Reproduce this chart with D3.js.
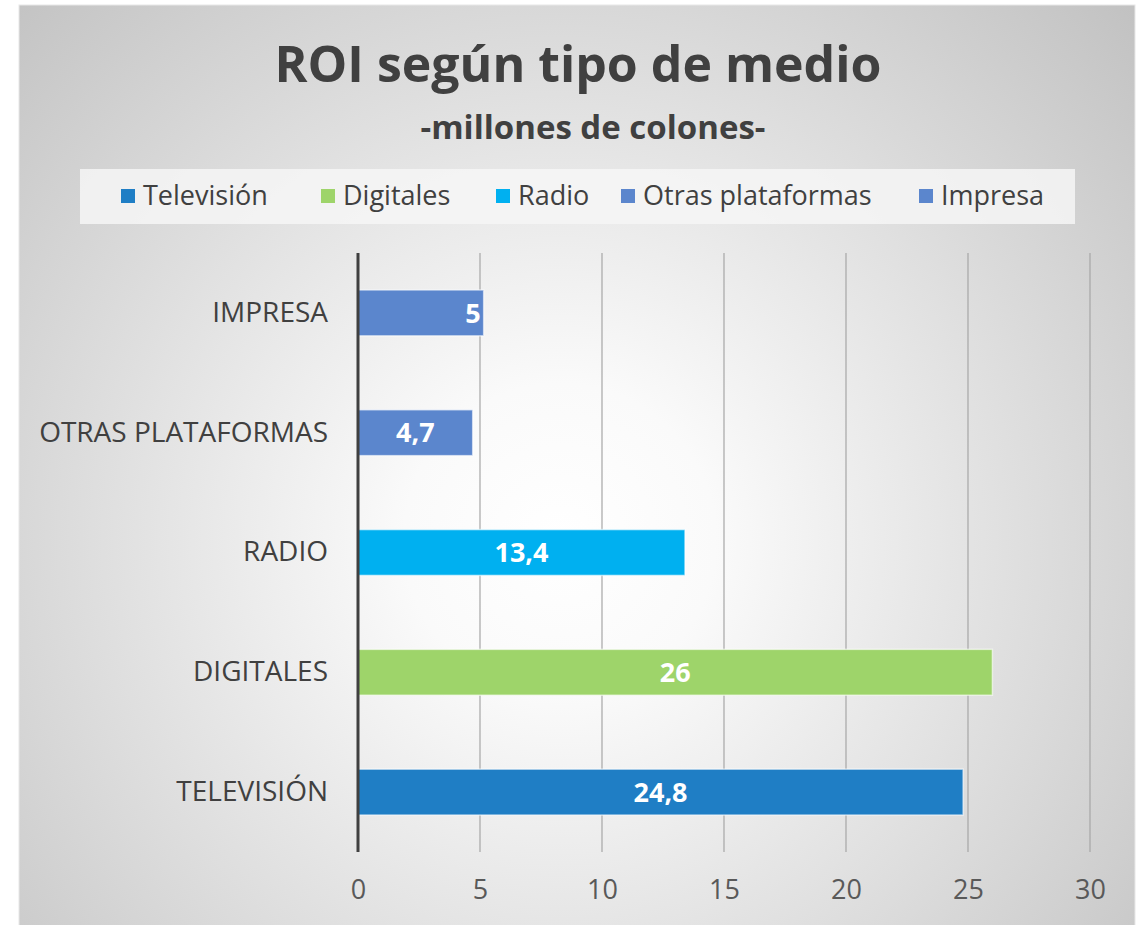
<!DOCTYPE html>
<html>
  <head>
    <meta charset="utf-8" />
    <title>ROI según tipo de medio</title>
    <style>
      body { margin: 0; background: #fff; }
      svg { display: block; font-family: "Open Sans", sans-serif; }
    </style>
  </head>
  <body>
    <svg id="chart" width="1143" height="925"></svg>
    <script src="https://d3js.org/d3.v7.min.js"></script>
    <script>
      // data, top to bottom as drawn
      const categories = ["IMPRESA", "OTRAS PLATAFORMAS", "RADIO", "DIGITALES", "TELEVISIÓN"];
      const values = [5.15, 4.7, 13.4, 26, 24.8];
      const valueLabels = ["5", "4,7", "13,4", "26", "24,8"];
      const barColors = ["#5b86cd", "#5b86cd", "#00b0f0", "#9ed46a", "#1f7ec5"];
      const legendNames = ["Televisión", "Digitales", "Radio", "Otras plataformas", "Impresa"];
      const legendColors = ["#1f7ec5", "#9ed46a", "#00b0f0", "#5b86cd", "#5b86cd"];
      const xTicks = [0, 5, 10, 15, 20, 25, 30];

      const svg = d3.select("#chart");

      // radial gradient background
      const defs = svg.append("defs");
      const grad = defs
        .append("radialGradient")
        .attr("id", "bg")
        .attr("gradientUnits", "userSpaceOnUse")
        .attr("cx", 560)
        .attr("cy", 540)
        .attr("r", 780);
      grad.append("stop").attr("offset", "0%").attr("stop-color", "#ffffff");
      grad.append("stop").attr("offset", "20%").attr("stop-color", "#fafafa");
      grad.append("stop").attr("offset", "100%").attr("stop-color", "#c2c2c2");

      svg
        .append("rect")
        .attr("x", 19)
        .attr("y", 5)
        .attr("width", 1116)
        .attr("height", 925)
        .attr("fill", "url(#bg)")
        .attr("stroke", "#e8e8e8")
        .attr("stroke-width", 1);

      // titles
      svg
        .append("text")
        .attr("x", 578)
        .attr("y", 82)
        .attr("text-anchor", "middle")
        .attr("font-size", 50)
        .attr("font-weight", "bold")
        .attr("fill", "#404040")
        .text("ROI según tipo de medio");

      svg
        .append("text")
        .attr("x", 593)
        .attr("y", 139)
        .attr("text-anchor", "middle")
        .attr("font-size", 33)
        .attr("font-weight", "bold")
        .attr("fill", "#404040")
        .text("-millones de colones-");

      // legend
      svg
        .append("rect")
        .attr("x", 80)
        .attr("y", 169)
        .attr("width", 995)
        .attr("height", 55)
        .attr("fill", "#f6f6f6")
        .attr("fill-opacity", 0.85);

      const legendX = [121, 321, 496, 621, 919];
      const legend = svg
        .selectAll(".legend")
        .data(legendNames)
        .join("g")
        .attr("class", "legend")
        .attr("transform", (d, i) => "translate(" + legendX[i] + ",189)");
      legend
        .append("rect")
        .attr("width", 14)
        .attr("height", 14)
        .attr("fill", (d, i) => legendColors[i]);
      legend
        .append("text")
        .attr("x", 22)
        .attr("y", 16)
        .attr("font-size", 27)
        .attr("fill", "#404040")
        .text((d) => d);

      // plot
      const plot = { left: 358, right: 1090, top: 253, bottom: 852 };

      const x = d3.scaleLinear().domain([0, 30]).range([plot.left, plot.right]);
      const y = d3
        .scaleBand()
        .domain(categories)
        .range([plot.top, plot.bottom])
        .paddingInner(0.617)
        .paddingOuter(0.3085);

      // gridlines
      svg
        .append("g")
        .selectAll("line")
        .data(xTicks.slice(1))
        .join("line")
        .attr("x1", (d) => x(d))
        .attr("x2", (d) => x(d))
        .attr("y1", plot.top)
        .attr("y2", plot.bottom)
        .attr("stroke", "#a6a6a6")
        .attr("stroke-width", 1.2);

      // x tick labels
      const xAxis = svg
        .append("g")
        .attr("transform", "translate(0," + plot.bottom + ")")
        .call(d3.axisBottom(x).tickValues(xTicks).tickSize(0).tickPadding(28));
      xAxis.select(".domain").remove();
      xAxis
        .selectAll("text")
        .attr("font-size", 27)
        .attr("font-family", "Open Sans, sans-serif")
        .attr("fill", "#595959");

      // bars
      svg
        .append("g")
        .selectAll("rect")
        .data(categories)
        .join("rect")
        .attr("x", x(0))
        .attr("y", (d) => y(d))
        .attr("width", (d, i) => x(values[i]) - x(0))
        .attr("height", y.bandwidth())
        .attr("fill", (d, i) => barColors[i])
        .attr("stroke", "#ffffff")
        .attr("stroke-opacity", 0.6)
        .attr("stroke-width", 1.5);

      // value labels (Impresa sits at the inside end)
      const insideEnd = new Set(["IMPRESA"]);
      svg
        .append("g")
        .selectAll("text")
        .data(categories)
        .join("text")
        .attr("x", (d, i) =>
          insideEnd.has(d) ? x(values[i]) - 3 : (x(0) + x(values[i])) / 2
        )
        .attr("y", (d) => y(d) + y.bandwidth() / 2)
        .attr("dy", "0.36em")
        .attr("text-anchor", (d) => (insideEnd.has(d) ? "end" : "middle"))
        .attr("font-size", 27)
        .attr("font-weight", "bold")
        .attr("fill", "#ffffff")
        .text((d, i) => valueLabels[i]);

      // category labels
      const yAxis = svg
        .append("g")
        .attr("transform", "translate(" + plot.left + ",0)")
        .call(d3.axisLeft(y).tickSize(0).tickPadding(30));
      yAxis.select(".domain").remove();
      yAxis
        .selectAll("text")
        .attr("font-size", 28)
        .attr("font-family", "Open Sans, sans-serif")
        .attr("fill", "#404040");

      // vertical axis line
      svg
        .append("line")
        .attr("x1", x(0))
        .attr("x2", x(0))
        .attr("y1", plot.top)
        .attr("y2", plot.bottom)
        .attr("stroke", "#404040")
        .attr("stroke-width", 3);
    </script>
  </body>
</html>
